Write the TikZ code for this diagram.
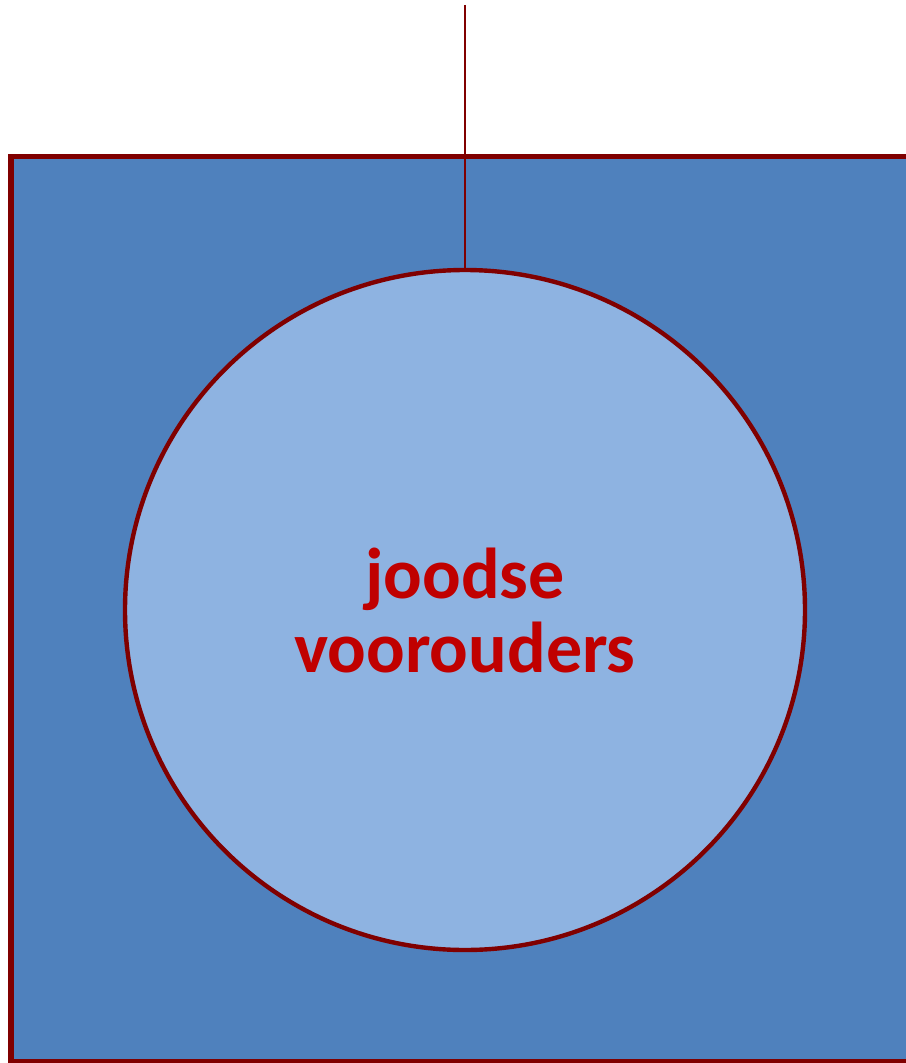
\documentclass[tikz,border=0pt]{standalone}
\usepackage{fontspec}
\setmainfont{Carlito}
\usetikzlibrary{positioning}
\definecolor{darkred}{RGB}{128,0,0}
\definecolor{textred}{RGB}{192,0,0}
\definecolor{boxblue}{RGB}{79,129,189}
\definecolor{paleblue}{RGB}{142,179,225}
\tikzset{
  frame/.style={draw=darkred,line width=3.9pt,fill=boxblue},
  ancestor/.style={circle,draw=darkred,line width=3.3pt,fill=paleblue,minimum size=510pt,inner sep=0pt,align=center,text=textred,font=\fontsize{54}{55.5}\selectfont\bfseries},
  link/.style={draw=darkred,line width=1.5pt}
}
\begin{document}
\begin{tikzpicture}[x=0.75pt,y=-0.75pt]
  \useasboundingbox (0,0) rectangle (906,1063);
  \clip (0,0) rectangle (906,1063);
  \draw[frame] (11,156.5) rectangle (940,1062);
  \node[ancestor] (anc) at (465,610) {joodse\\voorouders};
  \coordinate (top) at (465,5);
  \draw[link] (top) -- (anc.north);
\end{tikzpicture}
\end{document}
